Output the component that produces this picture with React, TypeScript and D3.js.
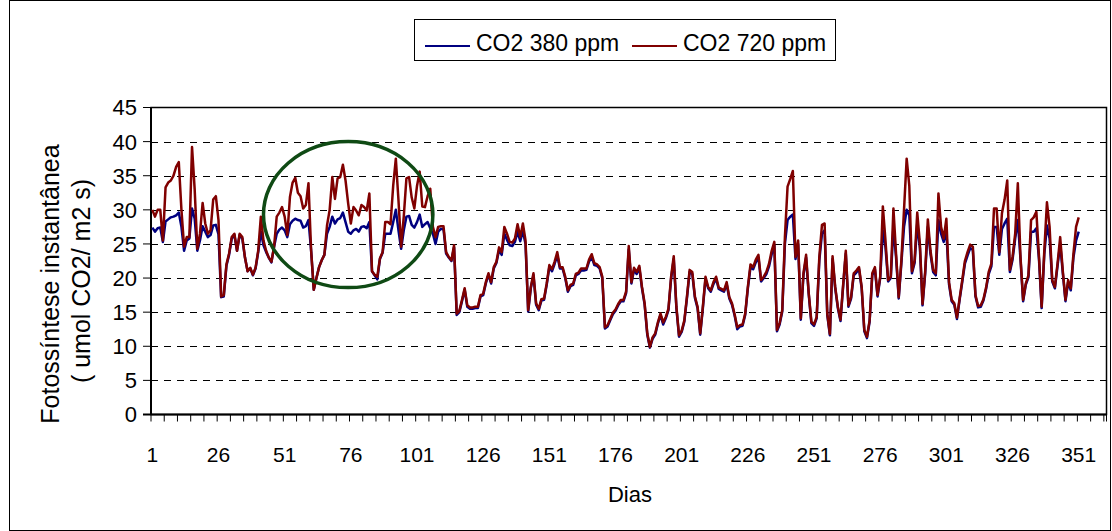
import React from 'react';
import * as d3 from 'd3';

const seriesNames = ['CO2 380 ppm', 'CO2 720 ppm'];
const seriesColors = ['#000080', '#800000'];
const categoryCount = 361;
const xTickLabels = [1, 26, 51, 76, 101, 126, 151, 176, 201, 226, 251, 276, 301, 326, 351];
const yTicks = [0, 5, 10, 15, 20, 25, 30, 35, 40, 45];
const yTitle = ['Fotossíntese instantânea', '( umol CO2/ m2 s)'];
const xTitle = 'Dias';

const co2_720 = [
  30, 29, 30, 30, 25.5, 33.3, 34, 34.3, 35, 36.3,
  37, 30, 24.6, 26, 26, 39.2, 33, 24.3, 26.5, 31,
  28, 26.5, 27, 31.5, 32, 28.5, 17.3, 17.5, 22, 23.6,
  26, 26.5, 24, 26.5, 26, 23, 21, 21.5, 20.5, 21.5,
  24, 29, 25.5, 24, 23, 22.4, 24.6, 29, 29.6, 30.4,
  29, 26.3, 31.9, 34, 34.7, 32.5, 32, 30.2, 30.7, 33.9,
  24, 18.3, 20, 21.6, 22.6, 23.4, 27.7, 30, 34.8, 31.6,
  34.6, 34.8, 36.6, 34.3, 30.9, 28, 30.4, 29.9, 29.2, 30.7,
  30.4, 29.9, 32.4, 21, 20.5, 20.2, 22.9, 23.8, 28.2, 28.2,
  27.9, 33.5, 37.5, 31.4, 24.6, 29, 34.6, 34.8, 31.8, 30.2,
  33.5, 35.6, 30.5, 30.4, 32, 33.1, 27.5, 26, 27.5, 27.6,
  27.6, 23.8, 23.1, 22.6, 24.8, 14.8, 15.2, 16.8, 18.5, 16,
  15.7, 15.7, 15.8, 15.8, 17.5, 17.7, 19.4, 20.7, 19.4, 21.6,
  22.4, 24.5, 23.8, 27.5, 26.5, 25.3, 25.2, 25.8, 27.9, 26,
  28, 25.5, 15.3, 18.7, 20.7, 16.3, 15.5, 16.9, 17, 19.2,
  21.9, 21.3, 22.4, 23.8, 21.6, 21.6, 20.2, 18.2, 19, 19.2,
  20.6, 20.8, 21.4, 21.4, 21.4, 22.7, 23.5, 22.2, 22, 21.6,
  20.2, 12.8, 13.1, 14, 14.9, 15.4, 16.2, 16.8, 16.8, 18,
  24.7, 19.4, 21.5, 20.9, 21.8, 18.7, 16.3, 11.9, 9.9, 11.3,
  11.9, 13.5, 14.8, 13.5, 14.3, 15.5, 20.2, 23.2, 15.8, 11.6,
  12.3, 13.8, 17.3, 21.2, 20.9, 17.3, 15.8, 11.9, 15.8, 20.2,
  18.7, 18.2, 19.4, 20.2, 18.6, 18.4, 18.2, 19.4, 17.2, 16.3,
  14.7, 12.8, 13.1, 13.2, 14.8, 18.7, 22, 21.6, 22.7, 23.4,
  19.7, 20.2, 20.9, 22.1, 24, 25.3, 12.4, 13.4, 15.3, 26,
  33.4, 34.5, 35.7, 23.1, 25.5, 14.1, 20.7, 23.4, 17.8, 13.6,
  13.2, 14.3, 23.1, 27.8, 28, 14.8, 11.8, 23.2, 18.7, 15.8,
  13.9, 19, 24, 16, 17.2, 20.7, 21.1, 21.6, 18.7, 12.4,
  11.4, 13.8, 20.7, 21.6, 17.5, 20.2, 30.5, 25.5, 19.7, 20.2,
  30.2, 23.5, 17.2, 22.6, 30, 37.5, 33.5, 21, 22.6, 29.6,
  25, 16.2, 21, 28.6, 24, 21.2, 20.7, 32.4, 27.5, 25.8,
  28.7, 19.4, 16.8, 16.3, 14.2, 17, 19.7, 22.5, 23.8, 24.9,
  24.6, 17.5, 15.9, 16, 16.9, 18.6, 20.9, 22.1, 30.2, 30.2,
  23.8, 29.5, 31.5, 34.3, 21.2, 23.1, 26.5, 33.9, 23.1, 16.8,
  19.2, 20.4, 28.5, 28.9, 29.7, 23.1, 15.8, 24, 31.1, 27.5,
  19.7, 18.7, 22.1, 26, 21, 16.8, 19.7, 18.5, 23.5, 27.5,
  28.9,
];

const co2_380 = [
  27.4, 26.8, 27.3, 27.4, 25.3, 28.3, 28.6, 28.9, 29, 29.2,
  29.6, 27.5, 24, 25.5, 25.8, 30.2, 28.7, 24, 25.5, 27.6,
  26.8, 26, 26.3, 27.7, 27.8, 26.4, 17.2, 17.3, 21.8, 23.4,
  25.8, 26.3, 24, 26.3, 25.8, 23, 21, 21.4, 20.4, 21.4,
  23.8, 26.8, 24.8, 23.8, 23, 22.3, 24.6, 26.5, 27.1, 27.4,
  27, 26, 27.9, 28.4, 28.7, 28.5, 28.4, 27.4, 27.6, 28.5,
  24, 18.3, 20, 21.6, 22.6, 23.4, 26.5, 27.5, 29, 28,
  28.6, 28.8, 29.6, 28.2, 26.8, 26.5, 27, 27.2, 26.8, 27.5,
  27.6, 27.3, 28.2, 21, 20.4, 19.8, 22.8, 23.7, 26.5, 26.5,
  26.5, 28.2, 30, 27, 24.3, 27, 29, 29.1, 27.8, 27.4,
  28.2, 29.3, 27.5, 27.9, 28.2, 27.3, 26.5, 25, 26.8, 27.2,
  27.2, 23.6, 23, 22.5, 24.5, 14.6, 15, 16.6, 18.3, 15.8,
  15.5, 15.5, 15.6, 15.6, 17.3, 17.5, 19.2, 20.5, 19.2, 21.4,
  22.2, 24.1, 23.4, 26.5, 25.6, 24.8, 24.7, 25.3, 26.8, 25.4,
  26.9, 25, 15.1, 18.5, 20.4, 16.1, 15.3, 16.7, 16.8, 19,
  21.6, 21, 22.1, 23.3, 21.4, 21.4, 20, 18, 18.8, 19,
  20.4, 20.6, 21.1, 21.1, 21.2, 22.4, 23.1, 21.9, 21.8, 21.4,
  20, 12.6, 12.9, 13.8, 14.7, 15.2, 16, 16.6, 16.6, 17.8,
  24.2, 19.2, 21.2, 20.6, 21.5, 18.5, 16.1, 11.7, 9.8, 11.1,
  11.7, 13.3, 14.6, 13.2, 14.1, 15.3, 19.9, 22.8, 15.6, 11.4,
  12.1, 13.6, 17.1, 20.9, 20.6, 17.1, 15.6, 11.7, 15.6, 19.9,
  18.5, 18, 19.1, 19.9, 18.4, 18.2, 18, 19.1, 17, 16.1,
  14.5, 12.5, 12.9, 13, 14.6, 18.5, 21.6, 21.3, 22.3, 23,
  19.5, 20, 20.6, 21.7, 23.5, 24.8, 12.2, 13.2, 15.1, 25,
  28.5, 29, 29.3, 22.8, 25, 13.9, 20.4, 23, 17.6, 13.4,
  13, 14.1, 22.6, 26.5, 27, 14.6, 11.6, 22.8, 18.5, 15.6,
  13.7, 18.8, 23.6, 15.8, 17, 20.4, 20.8, 21.3, 18.5, 12.2,
  11.2, 13.6, 20.4, 21.3, 17.3, 20, 27, 24.5, 19.5, 20,
  27.5, 23, 17, 22.2, 27.5, 30, 29.2, 20.7, 22.2, 28,
  24.4, 16, 20.7, 27.5, 23.5, 20.9, 20.4, 28.5, 26.5, 25.3,
  27, 19.1, 16.6, 16.1, 14, 16.8, 19.4, 22.1, 23.3, 24.4,
  24.1, 17.3, 15.7, 15.8, 16.7, 18.4, 20.6, 21.7, 27.5, 27.5,
  23.4, 27.2, 28, 28.7, 20.9, 22.7, 25.8, 28.5, 22.8, 16.6,
  19, 20.1, 26.8, 26.8, 27.3, 22.7, 15.6, 23.5, 27.7, 25.8,
  19.5, 18.5, 21.8, 25, 20.7, 16.6, 19.4, 18.2, 23, 25.5,
  26.8,
];

// annotation ellipse (in data units)
const ellipseCenterDay = 75;
const ellipseCenterValue = 29.3;
const ellipseHalfDays = 32;
const ellipseHalfValue = 10.7;

export default function App() {
  const W = 1112;
  const H = 531;
  const left = 151;
  const right = 1106.5;
  const top = 107.5;
  const bottom = 414.5;
  const font = '"Liberation Sans", Arial, sans-serif';
  const fs = 21;

  const cats = d3.range(1, categoryCount + 1);
  const x = d3.scaleBand<number>().domain(cats).range([left, right]).paddingInner(0).paddingOuter(0);
  const bw = x.bandwidth();
  const cx = (d: number) => (x(d) as number) + bw / 2;
  const y = d3.scaleLinear().domain([0, 45]).range([bottom, top]);

  const line = d3
    .line<number>()
    .x((_, i) => cx(i + 1))
    .y((v) => y(v));

  const series = [co2_380, co2_720];
  const minorTicks = cats.filter((c) => (c - 1) % 5 === 0).map((c) => x(c) as number);
  minorTicks.push(right);

  const ecx = cx(ellipseCenterDay);
  const ecy = y(ellipseCenterValue);
  const erx = ellipseHalfDays * bw;
  const ery = y(0) - y(ellipseHalfValue);

  return (
    <svg
      width={W}
      height={H}
      style={{ position: 'absolute', left: 0, top: 0, background: '#fff' }}
      fontFamily={font}
    >
      <rect x={0} y={0} width={W} height={H} fill="#fff" />
      {/* chart area border */}
      <rect x={9.5} y={0.5} width={W - 11} height={H - 1} fill="none" stroke="#000" strokeWidth={1} />

      {/* gridlines */}
      {yTicks
        .filter((t) => t > 0 && t < 45)
        .map((t) => (
          <line
            key={'g' + t}
            x1={left}
            x2={right}
            y1={Math.round(y(t)) + 0.5}
            y2={Math.round(y(t)) + 0.5}
            stroke="#000"
            strokeWidth={1}
            strokeDasharray="7,6"
          />
        ))}

      {/* plot border */}
      <rect x={left} y={top} width={right - left} height={bottom - top} fill="none" stroke="#000" strokeWidth={1.5} />
      {/* axes */}
      <line x1={left} x2={left} y1={top} y2={bottom} stroke="#000" strokeWidth={2} />
      <line x1={left - 8} x2={right} y1={bottom} y2={bottom} stroke="#000" strokeWidth={2} />

      {yTicks.map((t) => (
        <g key={'yt' + t}>
          <line x1={left - 8} x2={left} y1={y(t)} y2={y(t)} stroke="#000" strokeWidth={1} />
          <text x={left - 14} y={y(t)} dy="0.36em" textAnchor="end" fontSize={22} fill="#000">
            {t}
          </text>
        </g>
      ))}

      {minorTicks.map((tx, i) => (
        <line key={'xt' + i} x1={tx} x2={tx} y1={bottom} y2={bottom + 7} stroke="#000" strokeWidth={1} />
      ))}
      {xTickLabels.map((c) => (
        <text key={'xl' + c} x={cx(c)} y={462} textAnchor="middle" fontSize={fs} fill="#000">
          {c}
        </text>
      ))}

      {/* series */}
      {series.map((s, i) => (
        <path key={'s' + i} d={line(s) as string} fill="none" stroke={seriesColors[i]} strokeWidth={2.5} strokeLinejoin="round" />
      ))}

      {/* ellipse annotation */}
      <ellipse cx={ecx} cy={ecy} rx={erx} ry={ery} fill="none" stroke="#0f4a14" strokeWidth={3.5} />

      {/* axis titles */}
      <g transform={`translate(50,284) rotate(-90)`}>
        <text textAnchor="middle" dy="0.35em" fontSize={25} fill="#000">
          {yTitle[0]}
        </text>
      </g>
      <g transform={`translate(81,281) rotate(-90)`}>
        <text textAnchor="middle" dy="0.35em" fontSize={25} fill="#000">
          {yTitle[1]}
        </text>
      </g>
      <text x={630} y={502} textAnchor="middle" fontSize={22} fill="#000">
        {xTitle}
      </text>

      {/* legend */}
      <rect x={414.5} y={19.5} width={421} height={41} fill="#fff" stroke="#000" strokeWidth={1} />
      {seriesNames.map((n, i) => {
        const lx = i === 0 ? 425 : 632;
        return (
          <g key={'lg' + i}>
            <line x1={lx} x2={lx + 45} y1={46} y2={46} stroke={seriesColors[i]} strokeWidth={2} />
            <text x={lx + 51} y={51} fontSize={23} fill="#000">
              {n}
            </text>
          </g>
        );
      })}
    </svg>
  );
}
